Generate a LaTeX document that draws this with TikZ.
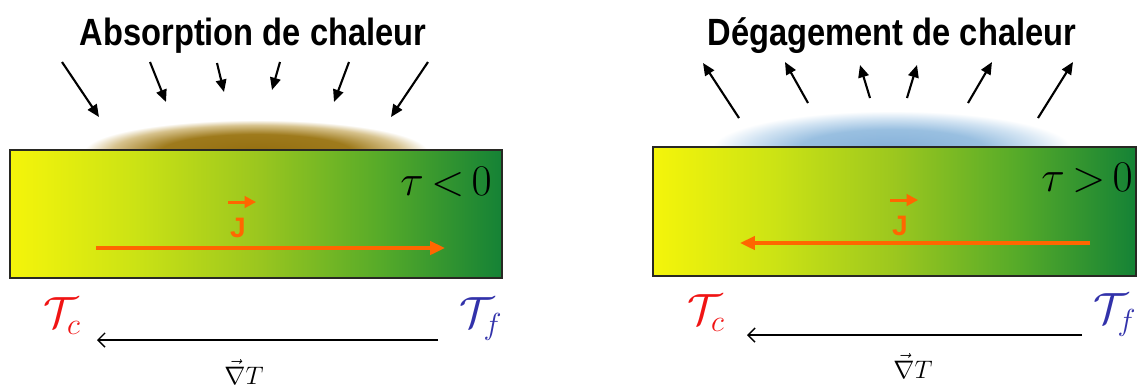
\documentclass[tikz,border=0pt]{standalone}
\usepackage{amsmath}
\usepackage{fontspec}
\usepackage{graphicx}
\usetikzlibrary{arrows.meta}
\newfontfamily\titlefont{Liberation Sans}
\definecolor{jorange}{RGB}{255,102,0}
\definecolor{tcred}{RGB}{240,20,20}
\definecolor{tfblue}{RGB}{50,50,170}
\definecolor{barborder}{RGB}{40,40,35}
\pgfdeclarehorizontalshading{barshade}{100bp}{rgb(0bp)=(0.96,0.96,0.04); rgb(25bp)=(0.96,0.96,0.04); rgb(37.5bp)=(0.80,0.89,0.08); rgb(50bp)=(0.61,0.78,0.12); rgb(62.5bp)=(0.34,0.67,0.16); rgb(75bp)=(0.08,0.51,0.21); rgb(100bp)=(0.08,0.51,0.21)}
\pgfdeclareradialshading{goldglow}{\pgfpoint{0bp}{0bp}}{rgb(0bp)=(0.58,0.43,0.06); rgb(14bp)=(0.62,0.48,0.11); rgb(21bp)=(0.84,0.76,0.55); rgb(25bp)=(1,1,1); rgb(50bp)=(1,1,1)}
\pgfdeclareradialshading{blueglow}{\pgfpoint{0bp}{0bp}}{rgb(0bp)=(0.52,0.69,0.85); rgb(13bp)=(0.60,0.75,0.88); rgb(20bp)=(0.82,0.89,0.95); rgb(25bp)=(1,1,1); rgb(50bp)=(1,1,1)}
\tikzset{
  title/.style={anchor=base, inner sep=0pt, font=\titlefont\bfseries\fontsize{21.6}{24}\selectfont},
  bar/.style={draw=barborder, line width=1.3pt, shading=barshade},
  rad/.style={line width=1.2pt, -{Triangle[length=7pt,width=6pt]}},
  jarrow/.style={jorange, line width=2.3pt, -{Triangle[length=8.5pt,width=7.5pt]}},
  jsmall/.style={jorange, line width=1.7pt, -{Triangle[length=6.5pt,width=6.5pt]}},
  jlabel/.style={text=jorange, inner sep=0pt, font=\fontspec{Liberation Sans}\bfseries\fontsize{16}{17}\selectfont},
  grad/.style={line width=0.8pt, -{Straight Barb[length=4pt,width=8pt]}},
  tau/.style={inner sep=0pt, font=\fontsize{26}{28}\selectfont},
  temp/.style={inner sep=0pt, font=\fontsize{24}{26}\selectfont},
  nabla/.style={inner sep=0pt, font=\fontsize{15}{17}\selectfont}
}
\begin{document}
\begin{tikzpicture}[x=0.02cm, y=-0.02cm]
\useasboundingbox (0,0) rectangle (1137,390);
% glows
\begin{scope}
  \clip (0,0) rectangle (640,149);
  \shade[shading=goldglow] (256,152) ellipse [x radius=172, y radius=32];
\end{scope}
\begin{scope}
  \clip (640,0) rectangle (1137,146);
  \shade[shading=blueglow] (892,149) ellipse [x radius=180, y radius=38];
\end{scope}
% titles
\node[title] (t1) at (253,45) {\scalebox{0.86}[1]{Absorption de chaleur}};
\node[title] (t2) at (892,45) {\scalebox{0.86}[1]{Dégagement de chaleur}};
% bars
\node[bar, minimum width=492*0.02cm, minimum height=128*0.02cm, inner sep=0pt, anchor=north west] (b1) at (9,149) {};
\node[bar, minimum width=483*0.02cm, minimum height=129*0.02cm, inner sep=0pt, anchor=north west] (b2) at (652,146) {};
% incoming arrows
\coordinate (a1s) at (62,62);  \coordinate (a1e) at (99,117);
\coordinate (a2s) at (150,62); \coordinate (a2e) at (166,102);
\coordinate (a3s) at (217,63); \coordinate (a3e) at (224,92);
\coordinate (a4s) at (280,62); \coordinate (a4e) at (272,90);
\coordinate (a5s) at (349,62); \coordinate (a5e) at (334,102);
\coordinate (a6s) at (428,62); \coordinate (a6e) at (391,117);
\foreach \i in {1,...,6} \draw[rad] (a\i s) -- (a\i e);
% outgoing arrows
\coordinate (o1s) at (739,118);  \coordinate (o1e) at (703,63);
\coordinate (o2s) at (808,103);  \coordinate (o2e) at (785,62);
\coordinate (o3s) at (870,98);   \coordinate (o3e) at (860,65);
\coordinate (o4s) at (907,98);   \coordinate (o4e) at (917,65);
\coordinate (o5s) at (968,103);  \coordinate (o5e) at (992,62);
\coordinate (o6s) at (1038,118); \coordinate (o6e) at (1073,62);
\foreach \i in {1,...,6} \draw[rad] (o\i s) -- (o\i e);
% tau labels
\node[tau, anchor=east] (tau1) at (492,182) {$\tau\mkern-2mu<\mkern-2mu0$};
\node[tau, anchor=east] (tau2) at (1133,178) {$\tau\mkern-2mu>\mkern-2mu0$};
% current J
\coordinate (j1s) at (96,248);  \coordinate (j1e) at (445,248);
\draw[jarrow] (j1s) -- (j1e);
\coordinate (j2s) at (1090,243); \coordinate (j2e) at (740,243);
\draw[jarrow] (j2s) -- (j2e);
\node[jlabel] (J1) at (238,228) {J};
\draw[jsmall] ([xshift=-1pt,yshift=9pt]J1.north west) -- ++(28,0);
\node[jlabel] (J2) at (900,226) {J};
\draw[jsmall] ([xshift=-1pt,yshift=9pt]J2.north west) -- ++(28,0);
% temperatures
\node[temp, text=tcred] (tc1) at (62,316) {$\mathcal{T}_{c}$};
\node[temp, text=tfblue] (tf1) at (481,319) {$\mathcal{T}_{f}$};
\node[temp, text=tcred] (tc2) at (706,313) {$\mathcal{T}_{c}$};
\node[temp, text=tfblue] (tf2) at (1115,315) {$\mathcal{T}_{f}$};
% gradient arrows
\coordinate (g1s) at (438,340); \coordinate (g1e) at (97,340);
\draw[grad] (g1s) -- (g1e);
\coordinate (g2s) at (1082,335); \coordinate (g2e) at (747,335);
\draw[grad] (g2s) -- (g2e);
\node[nabla] (n1) at (244,372) {$\vec{\nabla}T$};
\node[nabla] (n2) at (913,366) {$\vec{\nabla}T$};
\end{tikzpicture}
\end{document}
